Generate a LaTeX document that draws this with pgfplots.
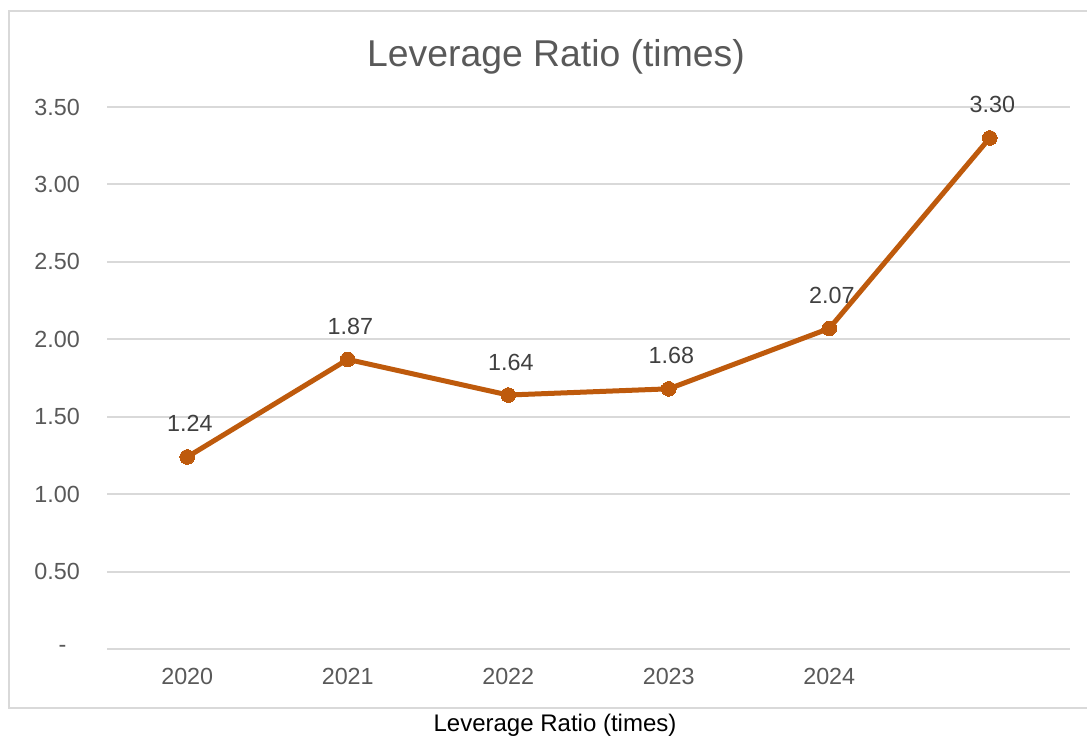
\documentclass[border=0pt]{standalone}
\usepackage{fontspec}
\setmainfont{Liberation Sans}
\usepackage{pgfplots}
\pgfplotsset{compat=1.18}
\definecolor{linec}{RGB}{190,90,12}
\definecolor{txt}{RGB}{89,89,89}
\definecolor{lbl}{RGB}{64,64,64}
\definecolor{grd}{RGB}{217,217,217}
\begin{document}
\begin{tikzpicture}
\path[use as bounding box] (0,0) rectangle (815.25pt,552.75pt);
\begin{scope}
\clip (0,0) rectangle (815.25pt,552.75pt);
\draw[grd, line width=1.5pt] (6.75pt,21.75pt) rectangle (822pt,544.5pt);
\node[anchor=base, font=\fontsize{18}{20}\selectfont, text=black, inner sep=0pt] at (416.25pt,3.75pt) {Leverage Ratio (times)};
\end{scope}
\node[anchor=base, font=\fontsize{28}{32}\selectfont, text=txt, inner sep=0pt] at (417pt,502.5pt) {Leverage Ratio (times)};
\begin{axis}[
  at={(80.25pt,66pt)}, anchor=south west,
  scale only axis, width=722.25pt, height=406.5pt,
  xmin=-0.5, xmax=5.5, ymin=0, ymax=3.5,
  xtick={0,1,2,3,4},
  xticklabels={2020,2021,2022,2023,2024},
  ytick={0,0.5,1,1.5,2,2.5,3,3.5},
  yticklabels={{\hbox{\fontsize{17.5}{20}\selectfont -\kern10pt}},0.50,1.00,1.50,2.00,2.50,3.00,3.50},
  /pgf/number format/assume math mode=true,
  major tick length=0pt,
  axis line style={draw=none},
  ymajorgrids=true,
  grid style={grd, line width=1.5pt},
  tick label style={font=\fontsize{17.5}{20}\selectfont, text=txt, inner sep=0pt},
  xticklabel style={anchor=north, yshift=-14.25pt},
  yticklabel style={anchor=east, xshift=-20.25pt},
  clip=false,
  nodes near coords={\pgfmathprintnumber[fixed,fixed zerofill,precision=2]{\pgfplotspointmeta}},
  nodes near coords style={anchor=base, yshift=18.75pt, xshift=2pt, inner sep=0pt, font=\fontsize{17.5}{20}\selectfont, text=lbl},
]
\addplot[linec, line width=3.75pt, mark=*, mark size=5.5pt, mark options={fill=linec, draw=linec, line width=0pt}] coordinates {(0,1.24) (1,1.87) (2,1.64) (3,1.68) (4,2.07) (5,3.30)};
\end{axis}
\end{tikzpicture}
\end{document}
